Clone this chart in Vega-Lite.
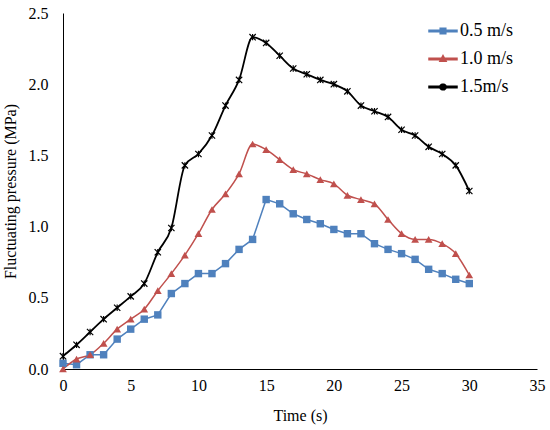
{
  "$schema": "https://vega.github.io/schema/vega-lite/v6.json",
  "width": 474,
  "height": 356,
  "autosize": {"type": "none"},
  "padding": {"left": 63, "top": 13, "right": 13, "bottom": 61},
  "background": "white",
  "data": {
    "values": [
      {"t": 0, "p": 0.04, "s": "0.5 m/s"}, {"t": 1, "p": 0.03, "s": "0.5 m/s"}, {"t": 2, "p": 0.10, "s": "0.5 m/s"},
      {"t": 3, "p": 0.10, "s": "0.5 m/s"}, {"t": 4, "p": 0.21, "s": "0.5 m/s"}, {"t": 5, "p": 0.28, "s": "0.5 m/s"},
      {"t": 6, "p": 0.35, "s": "0.5 m/s"}, {"t": 7, "p": 0.38, "s": "0.5 m/s"}, {"t": 8, "p": 0.53, "s": "0.5 m/s"},
      {"t": 9, "p": 0.60, "s": "0.5 m/s"}, {"t": 10, "p": 0.67, "s": "0.5 m/s"}, {"t": 11, "p": 0.67, "s": "0.5 m/s"},
      {"t": 12, "p": 0.74, "s": "0.5 m/s"}, {"t": 13, "p": 0.84, "s": "0.5 m/s"}, {"t": 14, "p": 0.91, "s": "0.5 m/s"},
      {"t": 15, "p": 1.19, "s": "0.5 m/s"}, {"t": 16, "p": 1.16, "s": "0.5 m/s"}, {"t": 17, "p": 1.09, "s": "0.5 m/s"},
      {"t": 18, "p": 1.05, "s": "0.5 m/s"}, {"t": 19, "p": 1.02, "s": "0.5 m/s"}, {"t": 20, "p": 0.98, "s": "0.5 m/s"},
      {"t": 21, "p": 0.95, "s": "0.5 m/s"}, {"t": 22, "p": 0.95, "s": "0.5 m/s"}, {"t": 23, "p": 0.88, "s": "0.5 m/s"},
      {"t": 24, "p": 0.84, "s": "0.5 m/s"}, {"t": 25, "p": 0.81, "s": "0.5 m/s"}, {"t": 26, "p": 0.77, "s": "0.5 m/s"},
      {"t": 27, "p": 0.70, "s": "0.5 m/s"}, {"t": 28, "p": 0.67, "s": "0.5 m/s"}, {"t": 29, "p": 0.63, "s": "0.5 m/s"},
      {"t": 30, "p": 0.60, "s": "0.5 m/s"},
      {"t": 0, "p": 0.00, "s": "1.0 m/s"}, {"t": 1, "p": 0.07, "s": "1.0 m/s"}, {"t": 2, "p": 0.10, "s": "1.0 m/s"},
      {"t": 3, "p": 0.18, "s": "1.0 m/s"}, {"t": 4, "p": 0.28, "s": "1.0 m/s"}, {"t": 5, "p": 0.35, "s": "1.0 m/s"},
      {"t": 6, "p": 0.42, "s": "1.0 m/s"}, {"t": 7, "p": 0.55, "s": "1.0 m/s"}, {"t": 8, "p": 0.67, "s": "1.0 m/s"},
      {"t": 9, "p": 0.80, "s": "1.0 m/s"}, {"t": 10, "p": 0.95, "s": "1.0 m/s"}, {"t": 11, "p": 1.12, "s": "1.0 m/s"},
      {"t": 12, "p": 1.23, "s": "1.0 m/s"}, {"t": 13, "p": 1.37, "s": "1.0 m/s"}, {"t": 14, "p": 1.58, "s": "1.0 m/s"},
      {"t": 15, "p": 1.54, "s": "1.0 m/s"}, {"t": 16, "p": 1.47, "s": "1.0 m/s"}, {"t": 17, "p": 1.40, "s": "1.0 m/s"},
      {"t": 18, "p": 1.37, "s": "1.0 m/s"}, {"t": 19, "p": 1.33, "s": "1.0 m/s"}, {"t": 20, "p": 1.30, "s": "1.0 m/s"},
      {"t": 21, "p": 1.22, "s": "1.0 m/s"}, {"t": 22, "p": 1.19, "s": "1.0 m/s"}, {"t": 23, "p": 1.16, "s": "1.0 m/s"},
      {"t": 24, "p": 1.05, "s": "1.0 m/s"}, {"t": 25, "p": 0.95, "s": "1.0 m/s"}, {"t": 26, "p": 0.91, "s": "1.0 m/s"},
      {"t": 27, "p": 0.91, "s": "1.0 m/s"}, {"t": 28, "p": 0.88, "s": "1.0 m/s"}, {"t": 29, "p": 0.81, "s": "1.0 m/s"},
      {"t": 30, "p": 0.66, "s": "1.0 m/s"},
      {"t": 0, "p": 0.09, "s": "1.5m/s"}, {"t": 1, "p": 0.17, "s": "1.5m/s"}, {"t": 2, "p": 0.26, "s": "1.5m/s"},
      {"t": 3, "p": 0.35, "s": "1.5m/s"}, {"t": 4, "p": 0.43, "s": "1.5m/s"}, {"t": 5, "p": 0.51, "s": "1.5m/s"},
      {"t": 6, "p": 0.60, "s": "1.5m/s"}, {"t": 7, "p": 0.82, "s": "1.5m/s"}, {"t": 8, "p": 0.99, "s": "1.5m/s"},
      {"t": 9, "p": 1.43, "s": "1.5m/s"}, {"t": 10, "p": 1.51, "s": "1.5m/s"}, {"t": 11, "p": 1.64, "s": "1.5m/s"},
      {"t": 12, "p": 1.85, "s": "1.5m/s"}, {"t": 13, "p": 2.03, "s": "1.5m/s"}, {"t": 14, "p": 2.33, "s": "1.5m/s"},
      {"t": 15, "p": 2.29, "s": "1.5m/s"}, {"t": 16, "p": 2.20, "s": "1.5m/s"}, {"t": 17, "p": 2.11, "s": "1.5m/s"},
      {"t": 18, "p": 2.07, "s": "1.5m/s"}, {"t": 19, "p": 2.03, "s": "1.5m/s"}, {"t": 20, "p": 2.00, "s": "1.5m/s"},
      {"t": 21, "p": 1.95, "s": "1.5m/s"}, {"t": 22, "p": 1.85, "s": "1.5m/s"}, {"t": 23, "p": 1.81, "s": "1.5m/s"},
      {"t": 24, "p": 1.77, "s": "1.5m/s"}, {"t": 25, "p": 1.68, "s": "1.5m/s"}, {"t": 26, "p": 1.64, "s": "1.5m/s"},
      {"t": 27, "p": 1.56, "s": "1.5m/s"}, {"t": 28, "p": 1.51, "s": "1.5m/s"}, {"t": 29, "p": 1.43, "s": "1.5m/s"},
      {"t": 30, "p": 1.25, "s": "1.5m/s"}
    ]
  },
  "encoding": {
    "x": {
      "field": "t",
      "type": "quantitative",
      "title": "Time (s)",
      "scale": {"domain": [0, 35], "nice": false},
      "axis": {"values": [0, 5, 10, 15, 20, 25, 30, 35], "labelPadding": 8, "titlePadding": 14}
    },
    "y": {
      "field": "p",
      "type": "quantitative",
      "title": "Fluctuating pressure (MPa)",
      "scale": {"domain": [0, 2.5], "nice": false},
      "axis": {"values": [0, 0.5, 1, 1.5, 2, 2.5], "labelPadding": 15, "titlePadding": 10}
    },
    "color": {
      "field": "s",
      "type": "nominal",
      "scale": {"domain": ["0.5 m/s", "1.0 m/s", "1.5m/s"], "range": ["#4F81BD", "#C0504D", "#000000"]},
      "legend": {
        "orient": "none",
        "legendX": 365,
        "legendY": 3,
        "title": null,
        "symbolSize": 784,
        "labelFontSize": 18,
        "labelFont": "Liberation Serif",
        "labelColor": "black",
        "labelOffset": 2,
        "rowPadding": 4,
        "encode": {
          "symbols": {
            "update": {
              "shape": {"signal": "datum.value == '0.5 m/s' ? 'M-1,-0.05H1V0.05H-1ZM-0.2,-0.2H0.2V0.2H-0.2Z' : datum.value == '1.0 m/s' ? 'M-1,-0.05H1V0.05H-1ZM0,-0.24L0.22,0.16H-0.22Z' : 'M-1,-0.05H1V0.05H-1ZM-0.12,-0.18L0.18,0.12L0.12,0.18L-0.18,-0.12ZM-0.18,0.12L0.12,-0.18L0.18,-0.12L-0.12,0.18ZM-0.03,-0.2H0.03V0.2H-0.03Z'"},
              "opacity": {"value": 1}
            }
          }
        }
      }
    }
  },
  "layer": [
    {"transform": [{"filter": "datum.s == '0.5 m/s'"}], "mark": {"type": "line", "strokeWidth": 1.5}},
    {"transform": [{"filter": "datum.s == '1.0 m/s'"}], "mark": {"type": "line", "strokeWidth": 1.5, "interpolate": "monotone"}},
    {"transform": [{"filter": "datum.s == '1.5m/s'"}], "mark": {"type": "line", "strokeWidth": 1.8, "interpolate": "monotone"}},
    {"transform": [{"filter": "datum.s == '0.5 m/s'"}], "mark": {"type": "point", "shape": "square", "filled": true, "size": 55, "opacity": 1}},
    {"transform": [{"filter": "datum.s == '1.0 m/s'"}], "mark": {"type": "point", "shape": "triangle-up", "filled": true, "size": 60, "opacity": 1}},
    {"transform": [{"filter": "datum.s == '1.5m/s'"}], "mark": {"type": "point", "shape": "M-1,-1L1,1M-1,1L1,-1M0,-1L0,1", "filled": false, "size": 40, "strokeWidth": 1.2, "opacity": 1}}
  ],
  "config": {
    "font": "Liberation Serif",
    "view": {"stroke": null},
    "axis": {
      "domainColor": "black",
      "domainWidth": 1,
      "ticks": false,
      "grid": false,
      "labelFlush": false,
      "labelFont": "Liberation Serif",
      "labelFontSize": 16,
      "labelColor": "black",
      "titleFont": "Liberation Serif",
      "titleFontSize": 16,
      "titleFontWeight": "normal",
      "titleColor": "black"
    }
  }
}
